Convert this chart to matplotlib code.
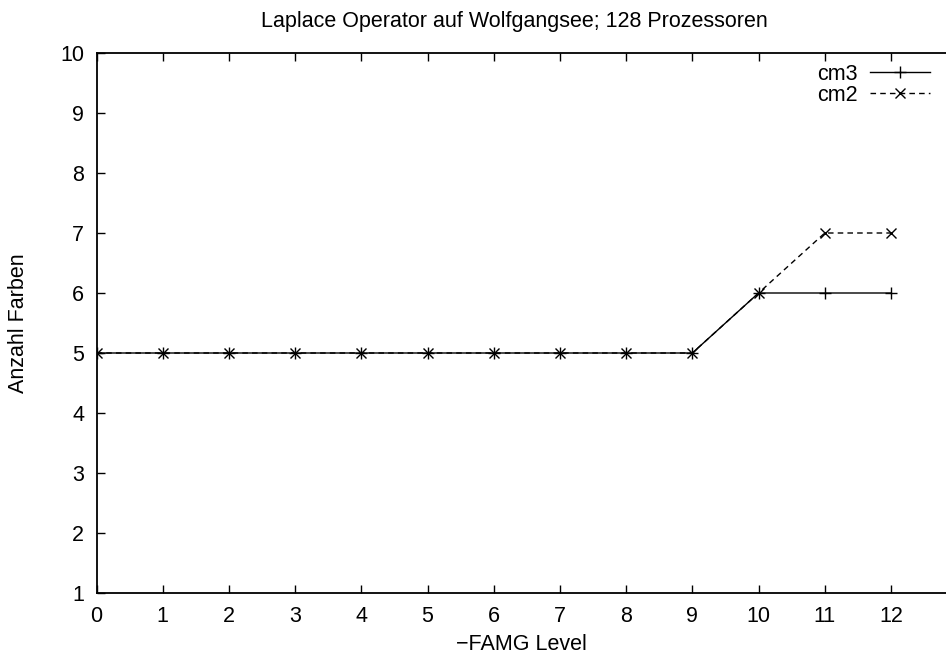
import matplotlib
matplotlib.use("Agg")
import matplotlib.pyplot as plt

levels = [0, 1, 2, 3, 4, 5, 6, 7, 8, 9, 10, 11, 12]
cm3 = [5, 5, 5, 5, 5, 5, 5, 5, 5, 5, 6, 6, 6]
cm2 = [5, 5, 5, 5, 5, 5, 5, 5, 5, 5, 6, 7, 7]
xticks = list(range(0, 13))
yticks = list(range(1, 11))

plt.rcParams['font.family'] = ['Liberation Sans', 'DejaVu Sans']

W, H = 946, 655
FS = 15.5
fig = plt.figure(figsize=(W / 100, H / 100), dpi=100)
left, right, top, bottom = 96.5, 946, 53, 593
ax = fig.add_axes([left / W, 1 - bottom / H, (right - left) / W, (bottom - top) / H])

px_per_unit = (891 - 96.5) / 12
ax.set_xlim(0, (right - left) / px_per_unit)
ax.set_ylim(1, 10)

ax.plot(levels, cm3, color='black', lw=1.0, marker='+', markersize=9, markeredgewidth=1.0, label='cm3')
ax.plot(levels, cm2, color='black', lw=1.0, ls=(0, (4, 3)), marker='x', markersize=7, markeredgewidth=1.0, label='cm2')

ax.set_xticks(xticks)
ax.set_yticks(yticks)
ax.tick_params(direction='in', length=6, width=1, top=True, right=False, labelsize=FS)
ax.tick_params(axis='x', pad=9)
ax.tick_params(axis='y', pad=9)
ax.spines['right'].set_visible(False)
for s in ['left', 'top', 'bottom']:
    ax.spines[s].set_linewidth(1.3)

ax.set_xlabel('\u2212FAMG Level', fontsize=FS, va='center')
ax.xaxis.set_label_coords(521 / W, 1 - 644 / H, transform=fig.transFigure)
ax.set_ylabel('Anzahl Farben', fontsize=FS, va='center')
ax.yaxis.set_label_coords(19 / W, 1 - 323 / H, transform=fig.transFigure)
fig.text(514 / W, 1 - 21 / H, 'Laplace Operator auf Wolfgangsee; 128 Prozessoren', ha='center', va='center', fontsize=FS)

leg = ax.legend(loc='upper right', bbox_to_anchor=(930 / W, 1 - 64 / H), bbox_transform=fig.transFigure,
                frameon=False, markerfirst=False, handlelength=2.8, handletextpad=0.55, labelspacing=0.0,
                fontsize=FS, borderpad=0, borderaxespad=0)

fig.savefig('out.png', dpi=100)
